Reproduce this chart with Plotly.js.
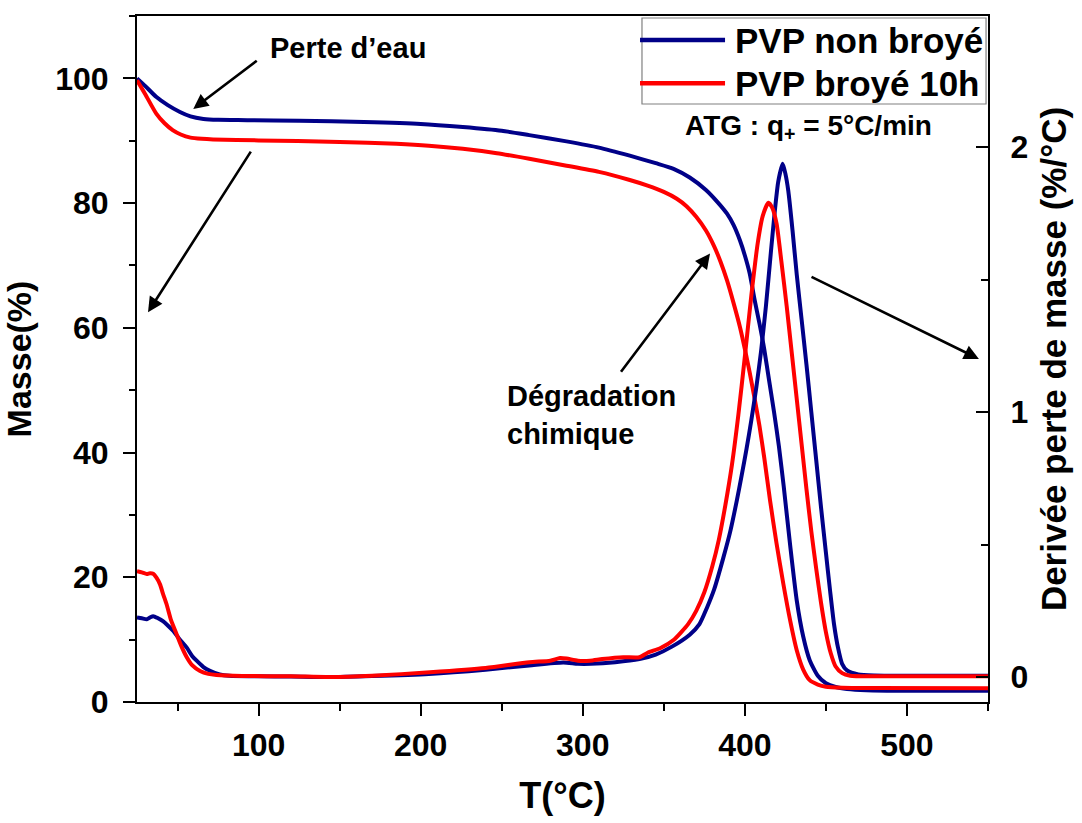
<!DOCTYPE html>
<html>
<head>
<meta charset="utf-8">
<script src="https://cdn.plot.ly/plotly-3.0.1.min.js"></script>
<style>html,body{margin:0;padding:0;background:#fff;}#chart{width:1082px;height:823px;}</style>
</head>
<body>
<div id="chart"></div>
<script>
// ---- Data ----
const seriesNames = ["PVP non broyé", "PVP broyé 10h"];

// Mass (%) vs temperature (°C) – PVP non broyé
const tMassBlue = [25,30,37,44,51.5,58,66,75,93,125,165,200,226,250,267,290,310,329,345,356,366,376,383,389,393,397,400,403,406,409,412,415,418,421,424,428,432,436,440,445,450,456,463,475,500,525,550];
const massBlue  = [100,98.8,97.0,95.7,94.6,93.9,93.5,93.35,93.3,93.2,93.0,92.7,92.2,91.6,90.9,89.9,88.9,87.6,86.4,85.5,84.1,82.1,80.2,78.3,76.5,74.0,71.6,68.7,64.5,60.7,56.5,51.5,46.5,41,34.5,25,16.3,10.5,6.7,4.2,3.0,2.4,2.1,1.9,1.8,1.8,1.8];

// Mass (%) – PVP broyé 10h
const tMassRed = [25,30,37,42,47,52,58,65,72,100,124,150,185,205,226,247,267,290,310,329,340,350,358,364,370,376,381,385,389,393,397,400,403,406,409,412,415.5,419.5,423.7,428,432,436,440,445,450,460,480,550];
const massRed  = [99.7,97.5,94.3,92.8,91.7,91.0,90.5,90.3,90.2,90.05,89.95,89.8,89.5,89.2,88.7,88.0,87.1,86.0,85.0,83.7,82.8,81.8,80.7,79.5,77.8,75.6,73.1,70.6,67.6,64.0,60.1,56.6,52.8,48.7,44.3,39.1,32.4,25.5,19.0,13,8.3,5.2,3.5,2.8,2.45,2.3,2.25,2.2];

// Derivative of mass loss (%/°C) – PVP non broyé
const tDerBlue = [25,28,31,33,35,38,41,44,47.4,51,55.7,59,61.8,66,70,76,82,100,120,144,170,205,240,267,288,297,305,320,335,345,355,366,372,376.5,381,386.7,391,395,398,401,404,407,410,413,416,418.5,420.6,423.3,425,426.8,429.5,432,435,438,441,444,447,450,452.5,455,457.5,460,463,470,480,500,550];
const derBlue  = [0.225,0.222,0.218,0.225,0.23,0.222,0.211,0.195,0.174,0.145,0.111,0.08,0.062,0.038,0.024,0.01,0.005,0.003,0.002,0.0,0.004,0.012,0.028,0.044,0.055,0.05,0.05,0.056,0.068,0.085,0.115,0.16,0.2,0.26,0.33,0.45,0.55,0.665,0.76,0.86,0.97,1.09,1.23,1.40,1.60,1.76,1.87,1.937,1.9,1.835,1.68,1.52,1.35,1.18,1.0,0.82,0.64,0.47,0.33,0.2,0.11,0.05,0.025,0.01,0.006,0.005,0.005];

// Derivative of mass loss (%/°C) – PVP broyé 10h
const tDerRed = [25,28,31,33,35,37,39.2,41,43.3,46,49.5,52.5,55.7,59,63.9,69,74,90,120,144,170,205.7,240,267,280,286,290,297,304.5,312,325,335,340,348,356,365,370,375,380,384,388,392,396,400,404,408,411,414.5,417,419.6,422.5,425.8,429,432,435,438,441,444,447,450,453,456,460,465,480,550];
const derRed  = [0.40,0.395,0.389,0.392,0.39,0.375,0.35,0.315,0.274,0.215,0.161,0.115,0.075,0.045,0.023,0.012,0.008,0.004,0.003,0.0,0.005,0.018,0.034,0.056,0.062,0.072,0.07,0.062,0.062,0.068,0.075,0.075,0.092,0.11,0.14,0.2,0.25,0.32,0.42,0.52,0.65,0.80,0.99,1.21,1.44,1.64,1.74,1.79,1.77,1.71,1.57,1.40,1.22,1.05,0.88,0.71,0.55,0.41,0.28,0.17,0.09,0.04,0.015,0.005,0.003,0.003];

const xTickVals = [100,200,300,400,500];
const yTickVals = [0,20,40,60,80,100];
const y2TickVals = [0,1,2];

// ---- Styling ----
const BLUE = "#000088";
const RED = "#ff0000";
const FONT = "Liberation Sans, Arial, sans-serif";
const LW = 4;
const seriesColors = [BLUE, RED];

const traces = [
  {x: tMassBlue, y: massBlue, name: seriesNames[0], type: "scatter", mode: "lines",
   line: {color: BLUE, width: LW, shape: "spline", smoothing: 0.6}, yaxis: "y"},
  {x: tMassRed, y: massRed, name: seriesNames[1], type: "scatter", mode: "lines",
   line: {color: RED, width: LW, shape: "spline", smoothing: 0.6}, yaxis: "y"},
  {x: tDerBlue, y: derBlue, name: seriesNames[0] + " (dérivée)", type: "scatter", mode: "lines",
   line: {color: BLUE, width: LW, shape: "spline", smoothing: 0.6}, yaxis: "y2"},
  {x: tDerRed, y: derRed, name: seriesNames[1] + " (dérivée)", type: "scatter", mode: "lines",
   line: {color: RED, width: LW, shape: "spline", smoothing: 0.6}, yaxis: "y2"}
];

const tickFont = {family: FONT, size: 32, color: "#000", weight: "bold"};

function arrow(x, y, ax, ay) {
  return {x: x, y: y, ax: ax, ay: ay, xref: "x", yref: "y", axref: "x", ayref: "y",
          text: "", showarrow: true, arrowhead: 2, arrowsize: 1.15, arrowwidth: 2.6, arrowcolor: "#000", standoff: 0};
}

// Legend box drawn in paper coordinates
const legX0 = 0.5934, legX1 = 0.9977, legY0 = 0.8717, legY1 = 0.9971;
const legLineX0 = 0.5911, legLineX1 = 0.691, legTextX = 0.7004;
const legRowsY = [0.965, 0.902];

const shapes = [
  {type: "rect", xref: "paper", yref: "paper", x0: legX0, x1: legX1, y0: legY0, y1: legY1,
   line: {color: "#808080", width: 1.2}, fillcolor: "#fff", layer: "above"}
];
const legendTexts = [];
seriesNames.forEach((nm, i) => {
  shapes.push({type: "line", xref: "paper", yref: "paper", x0: legLineX0, x1: legLineX1, y0: legRowsY[i], y1: legRowsY[i],
               line: {color: seriesColors[i], width: 4.5}, layer: "above"});
  legendTexts.push({x: legTextX, y: legRowsY[i], xref: "paper", yref: "paper", xanchor: "left", yanchor: "middle",
                    showarrow: false, text: nm, font: {family: FONT, size: 35, weight: "bold", color: "#000"}});
});

const layout = {
  width: 1082, height: 823,
  margin: {l: 137, r: 94, t: 16, b: 121},
  paper_bgcolor: "#fff", plot_bgcolor: "#fff",
  font: {family: FONT, color: "#000"},
  showlegend: false,
  xaxis: {
    range: [25, 550], tickvals: xTickVals, ticks: "outside", ticklen: 12, tickwidth: 2, tickcolor: "#000",
    showline: true, linewidth: 2, linecolor: "#000", mirror: true, showgrid: false, zeroline: false,
    tickfont: tickFont, ticklabelstandoff: 2,
    minor: {dtick: 50, tick0: 0, ticks: "outside", ticklen: 7, tickwidth: 2, tickcolor: "#000", showgrid: false},
    title: {text: "T(°C)", font: {family: FONT, size: 36, weight: "bold"}, standoff: 20}
  },
  yaxis: {
    range: [0, 110], tickvals: yTickVals, ticks: "outside", ticklen: 12, tickwidth: 2, tickcolor: "#000",
    showline: true, linewidth: 2, linecolor: "#000", showgrid: false, zeroline: false,
    tickfont: tickFont, ticklabelstandoff: 8,
    minor: {dtick: 10, tick0: 0, ticks: "outside", ticklen: 6, tickwidth: 2, tickcolor: "#000", showgrid: false},
    title: {text: "Masse(%)", font: {family: FONT, size: 34, weight: "bold"}, standoff: 14}
  },
  yaxis2: {
    overlaying: "y", side: "right", range: [-0.094, 2.495], tickvals: y2TickVals,
    ticks: "inside", ticklen: 12, tickwidth: 2, tickcolor: "#000",
    showline: true, linewidth: 2, linecolor: "#000", showgrid: false, zeroline: false,
    tickfont: tickFont, ticklabelstandoff: 14,
    minor: {dtick: 0.5, tick0: 0, ticks: "inside", ticklen: 7, tickwidth: 2, tickcolor: "#000", showgrid: false},
    title: {text: "Derivée perte de masse (%/°C)", font: {family: FONT, size: 35, weight: "bold"}, standoff: 14}
  },
  shapes: shapes,
  annotations: [
    {x: 0.154, y: 0.954, xref: "paper", yref: "paper", xanchor: "left", yanchor: "middle", showarrow: false,
     text: "Perte d’eau", font: {family: FONT, size: 29, weight: "bold", color: "#000"}},
    {x: 0.789, y: 0.838, xref: "paper", yref: "paper", xanchor: "center", yanchor: "middle", showarrow: false,
     text: "ATG : q<sub>+</sub> = 5°C/min", font: {family: FONT, size: 28, weight: "bold", color: "#000"}},
    {x: 0.4324, y: 0.418, xref: "paper", yref: "paper", xanchor: "left", yanchor: "middle", align: "left", showarrow: false,
     text: "Dégradation<br>chimique", font: {family: FONT, size: 29, weight: "bold", color: "#000"}},
    arrow(59.7, 95.1, 99.8, 103.0),
    arrow(31.8, 62.5, 95.8, 88.5),
    arrow(378.5, 71.9, 322.9, 52.7),
    arrow(544.4, 55.0, 440.2, 68.3)
  ].concat(legendTexts)
};

Plotly.newPlot("chart", traces, layout, {displayModeBar: false, staticPlot: true});
</script>
</body>
</html>
